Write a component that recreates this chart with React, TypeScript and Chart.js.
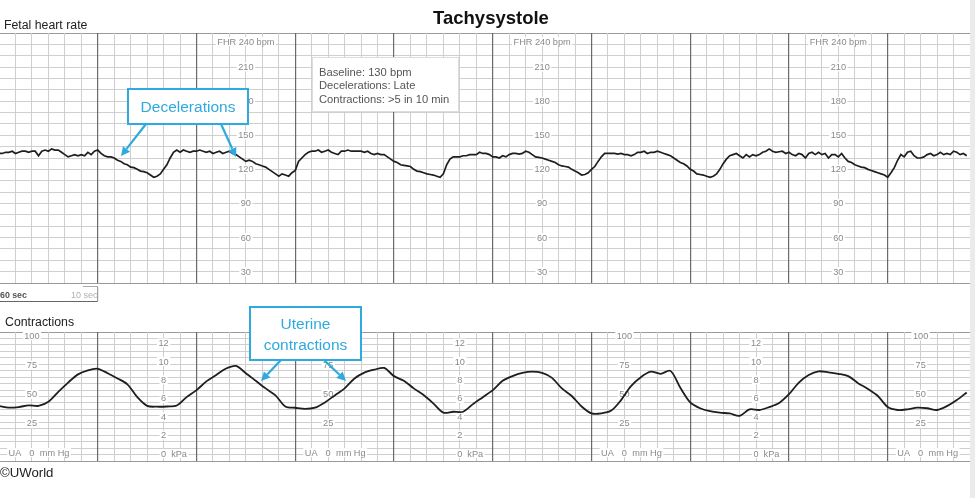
import React, { useEffect, useRef } from 'react';
import { Chart, registerables } from 'chart.js';

Chart.register(...registerables);

const FONT = '"Liberation Sans", Arial, Helvetica, sans-serif';

// ---- time axis (seconds) ----
const TIME_MIN = 0.6;
const TIME_MAX = 590;
const MINOR_STEP = 10;
const MAJOR_STEP = 60;

// ---- fetal heart rate, bpm, one value every 2 s ----
const FHR_SAMPLE_SECONDS = 2;
const FHR_BPM = [
  134, 134, 135, 135, 136, 134, 135, 136, 136, 135, 136, 136, 132, 136, 137, 136, 138,
  137,
  137, 135, 133, 131, 132, 133, 132, 133, 132, 135, 133, 136, 137, 134, 132, 131, 131, 130,
  128, 127, 125, 124, 122, 121.5, 120, 118.5, 118, 117, 115, 113, 114, 116, 120, 124, 130, 135,
  137, 135, 137, 136, 135, 136, 136, 137, 136, 135, 136, 134, 135, 136, 134, 135, 136, 134,
  133, 131, 129, 127, 128, 127, 125, 124, 123, 122, 120, 118, 116, 114, 116, 115, 114, 117,
  119,
  127, 130, 133, 135, 136, 136, 137, 135, 136, 137,
  135, 134, 133, 136, 136, 137, 136, 136, 136, 136,
  135, 136, 134, 133, 134, 133, 133, 131, 129, 127,
  126, 124, 123.5, 123, 122.5, 120, 118.5, 118, 117, 116,
  115.5, 115, 114, 113, 116, 124, 129, 131, 131, 131,
  132, 132, 133, 133, 133, 135, 134, 134, 133, 131,
  131, 130, 132, 131, 133, 134, 134, 133.5, 134, 136,
  135, 133, 131,
  130.5,
  130, 129, 128, 127, 126, 124, 123, 122.5, 122, 120,
  118.5, 117, 115, 115.5, 117, 120, 122.5, 127, 131, 134,
  134, 134, 134, 133.5, 134, 133, 133, 132, 133, 135,
  135, 136, 134, 135, 135, 136, 135, 134, 133, 132,
  130, 128, 126, 125, 123, 120, 118.5, 116, 115.5, 115,
  114, 113, 114, 116, 120, 125, 129, 132, 133, 134,
  132, 130, 133, 131, 133, 132, 133, 135, 136, 138,
  136, 135,
  135.5,
  136, 134, 135, 133, 132, 134, 133, 130, 134, 135,
  133, 135, 133, 134, 130, 133, 133, 131, 134, 130,
  127, 126, 124, 123, 122, 121.5, 120, 119, 118, 117,
  116, 115, 113, 117, 121.5, 128, 133, 131, 135, 136,
  132, 130, 130, 131, 133, 134, 132, 133, 135, 133,
  134, 133, 136, 135, 133, 134, 132,
];

// ---- uterine activity, mmHg, one value every 6 s ----
const UA_SAMPLE_SECONDS = 6;
const UA_MMHG = [
  40, 38.5, 39, 40.5, 40, 43.5, 52, 60, 67, 70.5,
  71.8, 68, 63.5, 58.5, 47.5, 40, 39.3, 39.5, 40.3, 47.5,
  53.5, 61, 66.5, 72, 74.2, 68, 61.5, 55, 49, 39.5,
  38.4, 37.5, 38.5, 43, 49, 55, 63.5, 68.5, 71, 72.5,
  65.5, 61.5, 55, 49.3, 42, 34.3, 35, 35, 41.5, 47.5,
  53.5, 61.5, 65.5, 68.2, 69.3, 68.2, 64, 55, 48.5, 39.5,
  33.6, 33.6, 36, 45, 57, 64.6, 69.3, 67.5, 70, 55.5,
  43, 38, 35.5, 34.2, 33.5, 31.5, 37, 36.5, 39, 42.5,
  50, 60, 66.5, 69.6, 68.8, 67.5, 65.5, 59.5, 54.5, 48.5,
  39, 36.5, 37.1, 38.5, 38, 36.5, 39.8, 45, 51.5,
];

// ---- printed scale labels ----
const FHR_MIN = 20;
const FHR_MAX = 240;
const FHR_STEP = 10;
const FHR_TICKS = [210, 180, 150, 120, 90, 60, 30];
const FHR_LABEL_TIMES = [150, 330, 510];

const UA_MIN = -7.2;
const UA_MAX = 103.3;
const UA_TICKS = [100, 75, 50, 25];
const UA_LABEL_TIMES = [20, 200, 380, 560];

const KPA_MIN = -0.8;
const KPA_MAX = 13.2;
const KPA_TICKS = [12, 10, 8, 6, 4, 2];
const KPA_LABEL_TIMES = [100, 280, 460];

const UA_GRID_ROWS = 20;

const INFO_LINES = ['Baseline: 130 bpm', 'Decelerations: Late', 'Contractions: >5 in 10 min'];

type LabelItem = { value: number; text: string; before?: string; after?: string; dy?: number; gapB?: number; gapA?: number };
type LabelGroup = { axis: string; times: number[]; items: LabelItem[] };

const labelPlugin = {
  id: 'ctgLabels',
  beforeDatasetsDraw(chart: any, _args: any, opts: any) {
    const ctx: CanvasRenderingContext2D = chart.ctx;
    const xs = chart.scales.x;
    ctx.save();
    ctx.font = `9.2px ${FONT}`;
    ctx.textBaseline = 'middle';
    ctx.textAlign = 'left';
    for (const g of (opts.groups || []) as LabelGroup[]) {
      const ys = chart.scales[g.axis];
      for (const t of g.times) {
        const cx = xs.getPixelForValue(t);
        for (const it of g.items) {
          const cy = ys.getPixelForValue(it.value) + (it.dy || 0);
          const w = ctx.measureText(it.text).width;
          const l = cx - w / 2;
          let minX = l;
          let maxX = l + w;
          let bx = 0;
          let ax = 0;
          if (it.before) {
            const wb = ctx.measureText(it.before).width;
            bx = l - (it.gapB ?? 8) - wb;
            minX = bx;
          }
          if (it.after) {
            const wa = ctx.measureText(it.after).width;
            ax = l + w + (it.gapA ?? 5);
            maxX = ax + wa;
          }
          ctx.fillStyle = '#ffffff';
          ctx.fillRect(minX - 1.5, cy - 4.5, maxX - minX + 3, 9);
          ctx.fillStyle = '#8a8a8a';
          ctx.fillText(it.text, l, cy + 0.5);
          if (it.before) ctx.fillText(it.before, bx, cy + 0.5);
          if (it.after) ctx.fillText(it.after, ax, cy + 0.5);
        }
      }
    }
    ctx.restore();
  },
};

const isMajor = (c: any) => !!c.tick && Math.round(c.tick.value) % MAJOR_STEP === 0;

const xAxis = () => ({
  type: 'linear',
  min: TIME_MIN,
  max: TIME_MAX,
  ticks: { display: false, stepSize: MINOR_STEP, includeBounds: false },
  grid: {
    z: -1,
    drawTicks: false,
    color: (c: any) => (isMajor(c) ? '#6a6a6a' : '#cfcfcf'),
    lineWidth: (c: any) => (isMajor(c) ? 1.2 : 1),
  },
  border: { display: true, color: '#9a9a9a', width: 1 },
});

function topConfig(): any {
  return {
    type: 'line',
    data: {
      datasets: [
        {
          data: FHR_BPM.map((v, i) => ({ x: i * FHR_SAMPLE_SECONDS, y: v })),
          borderColor: '#1e1e1e',
          borderWidth: 1.7,
          pointRadius: 0,
          tension: 0,
        },
      ],
    },
    options: {
      animation: false,
      responsive: false,
      maintainAspectRatio: false,
      devicePixelRatio: 1,
      layout: { padding: { top: 1, bottom: 1, left: 0, right: 1 } },
      plugins: {
        legend: { display: false },
        tooltip: { enabled: false },
        ctgLabels: {
          groups: [
            {
              axis: 'y',
              times: FHR_LABEL_TIMES,
              items: [
                { value: FHR_MAX, text: `FHR ${FHR_MAX} bpm`, dy: 8.5 },
                ...FHR_TICKS.map((v) => ({ value: v, text: String(v) })),
              ],
            },
          ],
        },
      },
      scales: {
        x: xAxis(),
        y: {
          type: 'linear',
          min: FHR_MIN,
          max: FHR_MAX,
          ticks: { display: false, stepSize: FHR_STEP },
          grid: {
            z: -2,
            drawTicks: false,
            color: (c: any) => (c.tick && (c.tick.value === FHR_MAX || c.tick.value === FHR_MIN) ? '#9a9a9a' : '#cfcfcf'),
          },
          border: { display: false },
        },
      },
    },
    plugins: [labelPlugin],
  };
}

function bottomConfig(): any {
  return {
    type: 'line',
    data: {
      datasets: [
        {
          data: UA_MMHG.map((v, i) => ({ x: i * UA_SAMPLE_SECONDS, y: v })),
          borderColor: '#1e1e1e',
          borderWidth: 1.8,
          pointRadius: 0,
          tension: 0.3,
          yAxisID: 'y',
        },
      ],
    },
    options: {
      animation: false,
      responsive: false,
      maintainAspectRatio: false,
      devicePixelRatio: 1,
      layout: { padding: { top: 1, bottom: 1, left: 0, right: 1 } },
      plugins: {
        legend: { display: false },
        tooltip: { enabled: false },
        ctgLabels: {
          groups: [
            {
              axis: 'y',
              times: UA_LABEL_TIMES,
              items: [
                ...UA_TICKS.map((v) => ({ value: v, text: String(v) })),
                { value: 0, text: '0', before: 'UA', after: 'mm Hg', gapB: 8, gapA: 5.3 },
              ],
            },
            {
              axis: 'yk',
              times: KPA_LABEL_TIMES,
              items: [
                ...KPA_TICKS.map((v) => ({ value: v, text: String(v) })),
                { value: 0, text: '0', after: 'kPa', gapA: 5 },
              ],
            },
          ],
        },
      },
      scales: {
        x: xAxis(),
        yg: {
          type: 'linear',
          position: 'left',
          min: 0,
          max: UA_GRID_ROWS,
          ticks: { display: false, stepSize: 1 },
          grid: {
            z: -2,
            drawTicks: false,
            color: (c: any) => (c.tick && (c.tick.value === 0 || c.tick.value === UA_GRID_ROWS) ? '#9a9a9a' : '#cfcfcf'),
          },
          border: { display: false },
        },
        y: { type: 'linear', display: false, min: UA_MIN, max: UA_MAX },
        yk: { type: 'linear', display: false, min: KPA_MIN, max: KPA_MAX },
      },
    },
    plugins: [labelPlugin],
  };
}

const CYAN = '#2eaadf';

function Arrow({ x1, y1, x2, y2 }: { x1: number; y1: number; x2: number; y2: number }) {
  const dx = x2 - x1;
  const dy = y2 - y1;
  const len = Math.hypot(dx, dy);
  const ux = dx / len;
  const uy = dy / len;
  const hl = 9;
  const hw = 4.5;
  const bx = x2 - ux * hl;
  const by = y2 - uy * hl;
  const pts = `${x2},${y2} ${bx - uy * hw},${by + ux * hw} ${bx + uy * hw},${by - ux * hw}`;
  return (
    <g>
      <line x1={x1} y1={y1} x2={bx} y2={by} stroke={CYAN} strokeWidth={2.2} />
      <polygon points={pts} fill={CYAN} />
    </g>
  );
}

export default function App() {
  const topRef = useRef<HTMLCanvasElement>(null);
  const botRef = useRef<HTMLCanvasElement>(null);

  useEffect(() => {
    const c1 = new Chart(topRef.current as HTMLCanvasElement, topConfig());
    const c2 = new Chart(botRef.current as HTMLCanvasElement, bottomConfig());
    return () => {
      c1.destroy();
      c2.destroy();
    };
  }, []);

  return (
    <div style={{ position: 'absolute', left: 0, top: 0, width: 975, height: 498, background: '#ffffff', overflow: 'hidden' }}>
      <canvas ref={topRef} width={971} height={252} style={{ position: 'absolute', left: 0, top: 32, width: 971, height: 252 }} />
      <canvas ref={botRef} width={971} height={131} style={{ position: 'absolute', left: 0, top: 331, width: 971, height: 131 }} />
      <svg width={975} height={498} style={{ position: 'absolute', left: 0, top: 0 }} fontFamily={FONT}>
        <rect x={970} y={0} width={5} height={498} fill="#ebebeb" />
        <text x={491} y={23.5} textAnchor="middle" fontSize={18.5} fontWeight="bold" fill="#111">Tachysystole</text>
        <text x={4} y={29} fontSize={12.3} fill="#222">Fetal heart rate</text>
        <text x={5} y={326} fontSize={12.3} fill="#222">Contractions</text>
        <text x={0} y={476.5} fontSize={13.2} fill="#222">©UWorld</text>

        {/* time scale bar */}
        <text x={0} y={297.5} fontSize={8.8} fontWeight="bold" fill="#555">60 sec</text>
        <text x={71} y={297.5} fontSize={9} fill="#b0b0b0">10 sec</text>
        <line x1={0} y1={301.5} x2={97.7} y2={301.5} stroke="#666" strokeWidth={1} />
        <line x1={83} y1={286.5} x2={97.7} y2={286.5} stroke="#aaa" strokeWidth={1} />
        <line x1={97.7} y1={286.5} x2={97.7} y2={301.5} stroke="#888" strokeWidth={1} />

        {/* info box */}
        <rect x={312.5} y={57.5} width={146} height={54} fill="#ffffff" stroke="#dddddd" strokeWidth={1} />
        {INFO_LINES.map((t, i) => (
          <text key={t} x={319} y={76 + i * 13.3} fontSize={11.2} fill="#555">{t}</text>
        ))}

        {/* decelerations callout */}
        <Arrow x1={146} y1={124} x2={121} y2={156} />
        <Arrow x1={221} y1={124} x2={236} y2={157} />
        <rect x={128} y={89} width={120} height={35} fill="#ffffff" stroke={CYAN} strokeWidth={2} />
        <text x={188} y={111.5} textAnchor="middle" fontSize={15.5} fill={CYAN}>Decelerations</text>

        {/* uterine contractions callout */}
        <Arrow x1={281} y1={360} x2={261} y2={381} />
        <Arrow x1={324} y1={360} x2={346} y2={381} />
        <rect x={250} y={307} width={111} height={53} fill="#ffffff" stroke={CYAN} strokeWidth={2} />
        <text x={305.5} y={329.3} textAnchor="middle" fontSize={15.5} fill={CYAN}>Uterine</text>
        <text x={305.5} y={349.5} textAnchor="middle" fontSize={15.5} fill={CYAN}>contractions</text>
      </svg>
    </div>
  );
}
